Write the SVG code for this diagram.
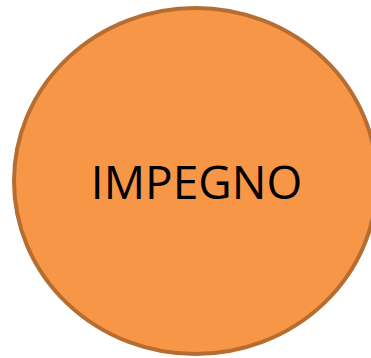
<svg xmlns="http://www.w3.org/2000/svg" width="371" height="358" viewBox="0 0 371 358">
<style>
.node{fill:#F79646;stroke:#B66D31;stroke-width:4}
.lbl{font-family:"Open Sans","Liberation Sans",sans-serif;font-size:46px;fill:#000;text-anchor:middle}
</style>
<rect width="371" height="358" fill="#fff"/>
<g id="connectors"></g>
<g id="impegno">
<ellipse class="node" cx="195.5" cy="181" rx="181.5" ry="173"/>
<text class="lbl" x="196.5" y="199">IMPEGNO</text>
</g>
</svg>
